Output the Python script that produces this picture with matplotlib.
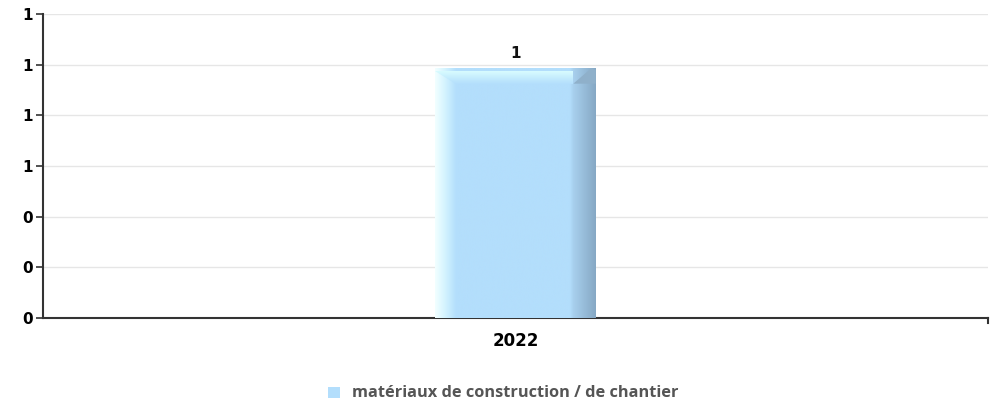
import numpy as np
import matplotlib.pyplot as plt
from matplotlib.colors import LinearSegmentedColormap
from matplotlib.patches import Polygon, Rectangle
from matplotlib.lines import Line2D

# data
years = ['2022']
values = [1]
series_name = 'matériaux de construction / de chantier'
yticks = [0, 0.2, 0.4, 0.6, 0.8, 1.0, 1.2]

fig = plt.figure(figsize=(9.98, 4.04), dpi=100)
ax = fig.add_axes([43/998, 1-318/404, (988-43)/998, (318-14)/404])

x = np.arange(len(years))
width = 0.17
bars = ax.bar(x, values, width, color='none', edgecolor='none', zorder=3)

# horizontal shading of the bar: light left edge, flat middle, darker right side
shade = LinearSegmentedColormap.from_list('shade', [
    (0.0, '#f2ffff'), (0.06, '#d4f4ff'), (0.13, '#b3defc'),
    (0.84, '#b3defc'), (0.86, '#a8d0ee'), (1.0, '#86a8c4')])
grad = np.linspace(0, 1, 256).reshape(1, -1)
topfade = LinearSegmentedColormap.from_list('top', ['#b3defc', '#d8fcff'])
for b in bars:
    x0, w, h = b.get_x(), b.get_width(), b.get_height()
    top = h * 0.985
    im = ax.imshow(grad, cmap=shade, aspect='auto', extent=[x0, x0 + w, 0, top],
                   zorder=3, interpolation='bicubic')
    im.set_clip_path(Rectangle((x0, 0), w, top, transform=ax.transData))
    # cyan top bevel, fading downwards
    bev = 0.06
    poly = Polygon([[x0, top - 0.01], [x0 + w * 0.86, top - 0.01],
                    [x0 + w * 0.86, top - bev], [x0 + w * 0.13, top - bev]],
                   closed=True, facecolor='none', edgecolor='none')
    ax.add_patch(poly)
    im2 = ax.imshow(np.linspace(0, 1, 64).reshape(-1, 1), cmap=topfade, aspect='auto',
                    origin='lower', extent=[x0, x0 + w, top - bev, top - 0.01],
                    zorder=4, interpolation='bicubic')
    im2.set_clip_path(poly)
    ax.add_patch(Polygon([[x0 + w * 0.86, top - bev], [x0 + w * 0.97, top],
                          [x0 + w, top - 0.005], [x0 + w, top - bev]],
                         closed=True, facecolor='#8fb0ca', edgecolor='none', zorder=4))
    ax.text(b.get_x() + w / 2, h + 0.015, '%d' % h, ha='center', va='bottom',
            fontsize=11, fontweight='bold', color='#111111', zorder=5)

ax.set_xlim(-0.5, 0.5)
ax.set_ylim(0, 1.2)
ax.set_yticks(yticks)
ax.set_yticklabels(['%d' % round(v) for v in yticks], fontsize=11, fontweight='bold')
ax.set_xticks(x)
ax.set_xticklabels(years, fontsize=12, fontweight='bold')
ax.tick_params(axis='x', length=0, pad=10)
ax.tick_params(axis='y', length=5, width=1.2, color='#333333', pad=2)
ax.grid(axis='y', color='#e6e6e6', linewidth=1, zorder=0)
for s in ['top', 'right']:
    ax.spines[s].set_visible(False)
ax.spines['left'].set_color('#333333')
ax.spines['left'].set_linewidth(1.5)
ax.spines['bottom'].set_color('#333333')
ax.spines['bottom'].set_linewidth(1.5)
# small tick at the right end of the x axis
ax.add_line(Line2D([1, 1], [0, -0.015], transform=ax.transAxes, color='#333333',
                   linewidth=1.5, clip_on=False))

# legend
fig.patches.append(Rectangle((328/998, 1-398/404), 12/998, 11/404, transform=fig.transFigure,
                             facecolor='#b3defc', edgecolor='none'))
fig.text(352/998, 1-393/404, series_name, fontsize=11.8, fontweight='bold',
         family=['Open Sans', 'DejaVu Sans'], color='#555555', va='center')

fig.savefig('out.png', dpi=100)
